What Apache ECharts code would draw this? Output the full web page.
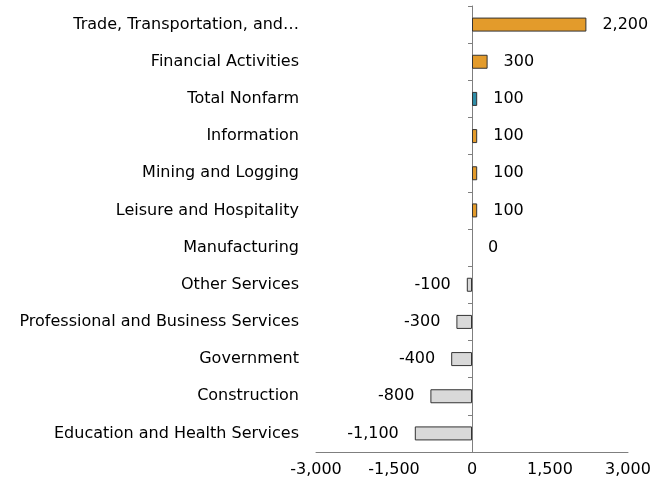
<!DOCTYPE html>
<html>
<head>
<meta charset="utf-8">
<script src="https://cdn.jsdelivr.net/npm/echarts@6/dist/echarts.min.js"></script>
<style>html,body{margin:0;padding:0;background:#fff}#c{width:672px;height:490px}</style>
</head>
<body>
<div id="c"></div>
<script>
const categories = [
  "Trade, Transportation, and\u2026",
  "Financial Activities",
  "Total Nonfarm",
  "Information",
  "Mining and Logging",
  "Leisure and Hospitality",
  "Manufacturing",
  "Other Services",
  "Professional and Business Services",
  "Government",
  "Construction",
  "Education and Health Services"
];
const values = [2200, 300, 100, 100, 100, 100, 0, -100, -300, -400, -800, -1100];
const xTicks = { min: -3000, max: 3000, interval: 1500 };

const FONT = "DejaVu Sans";
const colorFor = (cat, v) => cat === "Total Nonfarm" ? "#2E8CA6" : (v > 0 ? "#E39B2B" : "#D9D9D9");
const fmt = v => Number(v).toLocaleString('en-US');

const chart = echarts.init(document.getElementById('c'));
chart.setOption({
  animation: false,
  grid: { left: 316, right: 44, top: 6, bottom: 38, containLabel: false },
  xAxis: {
    type: 'value', min: xTicks.min, max: xTicks.max, interval: xTicks.interval,
    splitLine: { show: false },
    axisLine: { show: true, lineStyle: { color: '#7f7f7f', width: 1 } },
    axisTick: { show: false },
    axisLabel: { color: '#000', fontFamily: FONT, fontSize: 16, margin: 10, formatter: v => fmt(v) }
  },
  yAxis: [
    {
      type: 'category', data: categories, inverse: true,
      axisLine: { show: false, onZero: false }, axisTick: { show: false },
      axisLabel: { color: '#000', fontFamily: FONT, fontSize: 16, margin: 17, interval: 0 }
    },
    {
      type: 'category', data: categories, inverse: true, position: 'left',
      axisLine: { show: true, onZero: true, lineStyle: { color: '#7f7f7f', width: 1 } },
      axisTick: { show: true, interval: 0, length: 4, lineStyle: { color: '#7f7f7f' } },
      axisLabel: { show: false, interval: 0 }
    }
  ],
  series: [{
    type: 'bar', yAxisIndex: 0, barWidth: 14,
    data: values.map((v, i) => ({
      value: v,
      itemStyle: { color: colorFor(categories[i], v), borderColor: '#333', borderWidth: v === 0 ? 0 : 1 },
      label: { position: v < 0 ? 'left' : 'right' }
    })),
    label: { show: true, distance: 16, color: '#000', fontFamily: FONT, fontSize: 16, formatter: p => fmt(p.value) }
  }]
});
</script>
</body>
</html>
